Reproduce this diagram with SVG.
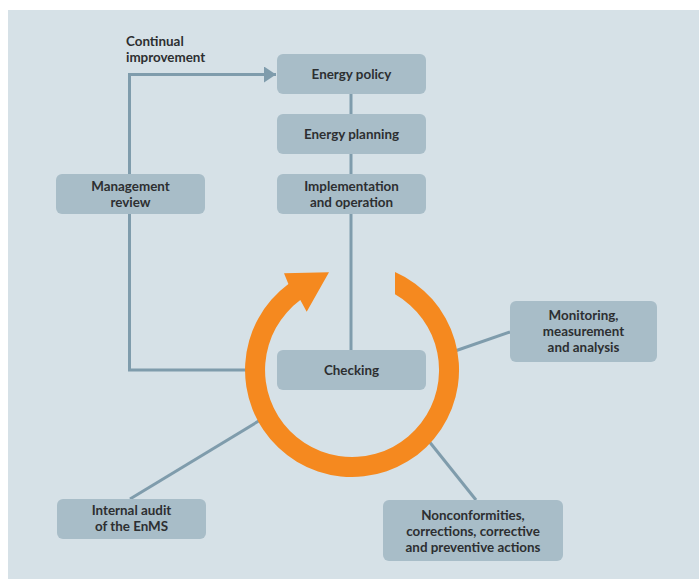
<svg xmlns="http://www.w3.org/2000/svg" width="699" height="579" viewBox="0 0 699 579">
  <style>
    .box { fill: #a8bdc8; }
    .lbl { font-family: Lato, "Open Sans", "Liberation Sans", sans-serif; font-weight: 700; font-size: 13.4px; fill: #2d2f31; text-anchor: middle; }
    .cap { font-family: Lato, "Open Sans", "Liberation Sans", sans-serif; font-weight: 700; font-size: 13.4px; fill: #2d2f31; }
    .conn { fill: none; stroke: #7f9cac; stroke-width: 3; }
  </style>
  <defs>
    <marker id="arr" markerUnits="userSpaceOnUse" markerWidth="13" markerHeight="16" refX="12" refY="8" orient="auto">
      <path d="M0,0 L12,8 L0,16 Z" fill="#7f9cac"/>
    </marker>
  </defs>
  <rect x="0" y="0" width="699" height="579" fill="#ffffff"/>
  <rect x="8" y="10" width="691" height="569" fill="#d6e1e7"/>

  <g id="connectors">
    <path class="conn" d="M129.5,174 V74.5 H276" marker-end="url(#arr)"/>
    <path class="conn" d="M129.5,214 V370 H252"/>
    <path class="conn" d="M351,94 V114"/>
    <path class="conn" d="M351,154 V174"/>
    <path class="conn" d="M351,214 V350"/>
    <path class="conn" d="M455,351 L510,332"/>
    <path class="conn" d="M262,419 L130,499"/>
    <path class="conn" d="M428,440 L476,500"/>
  </g>

  <g id="cycle">
    <path fill="#f5891f" d="M395,272.02 A107,107 0 1 1 288.4,284 L284,273.3 L329,272.3 L306.7,311.7 L300.3,300.1 A87,87 0 1 0 395,294.37 Z"/>
  </g>

  <g id="continual-improvement">
    <text class="cap" x="126" y="45.5">Continual</text>
    <text class="cap" x="126" y="61.5">improvement</text>
  </g>

  <g id="energy-policy">
    <rect class="box" x="277" y="54" width="149" height="40" rx="6"/>
    <text class="lbl" x="351.5" y="79">Energy policy</text>
  </g>

  <g id="energy-planning">
    <rect class="box" x="277" y="114" width="149" height="40" rx="6"/>
    <text class="lbl" x="351.5" y="139">Energy planning</text>
  </g>

  <g id="implementation">
    <rect class="box" x="277" y="174" width="149" height="40" rx="6"/>
    <text class="lbl" x="351.5" y="191">Implementation</text>
    <text class="lbl" x="351.5" y="207">and operation</text>
  </g>

  <g id="management-review">
    <rect class="box" x="56" y="174" width="149" height="40" rx="6"/>
    <text class="lbl" x="130.5" y="191">Management</text>
    <text class="lbl" x="130.5" y="207">review</text>
  </g>

  <g id="checking">
    <rect class="box" x="277" y="350" width="149" height="40" rx="6"/>
    <text class="lbl" x="351.5" y="375">Checking</text>
  </g>

  <g id="monitoring">
    <rect class="box" x="510" y="301" width="147" height="61" rx="6"/>
    <text class="lbl" x="583.5" y="320">Monitoring,</text>
    <text class="lbl" x="583.5" y="336">measurement</text>
    <text class="lbl" x="583.5" y="352">and analysis</text>
  </g>

  <g id="internal-audit">
    <rect class="box" x="57" y="499" width="149" height="40" rx="6"/>
    <text class="lbl" x="131.5" y="515">Internal audit</text>
    <text class="lbl" x="131.5" y="531">of the EnMS</text>
  </g>

  <g id="nonconformities">
    <rect class="box" x="383" y="500" width="180" height="61" rx="6"/>
    <text class="lbl" x="473" y="519.5">Nonconformities,</text>
    <text class="lbl" x="473" y="535.5">corrections, corrective</text>
    <text class="lbl" x="473" y="551.5">and preventive actions</text>
  </g>
</svg>
